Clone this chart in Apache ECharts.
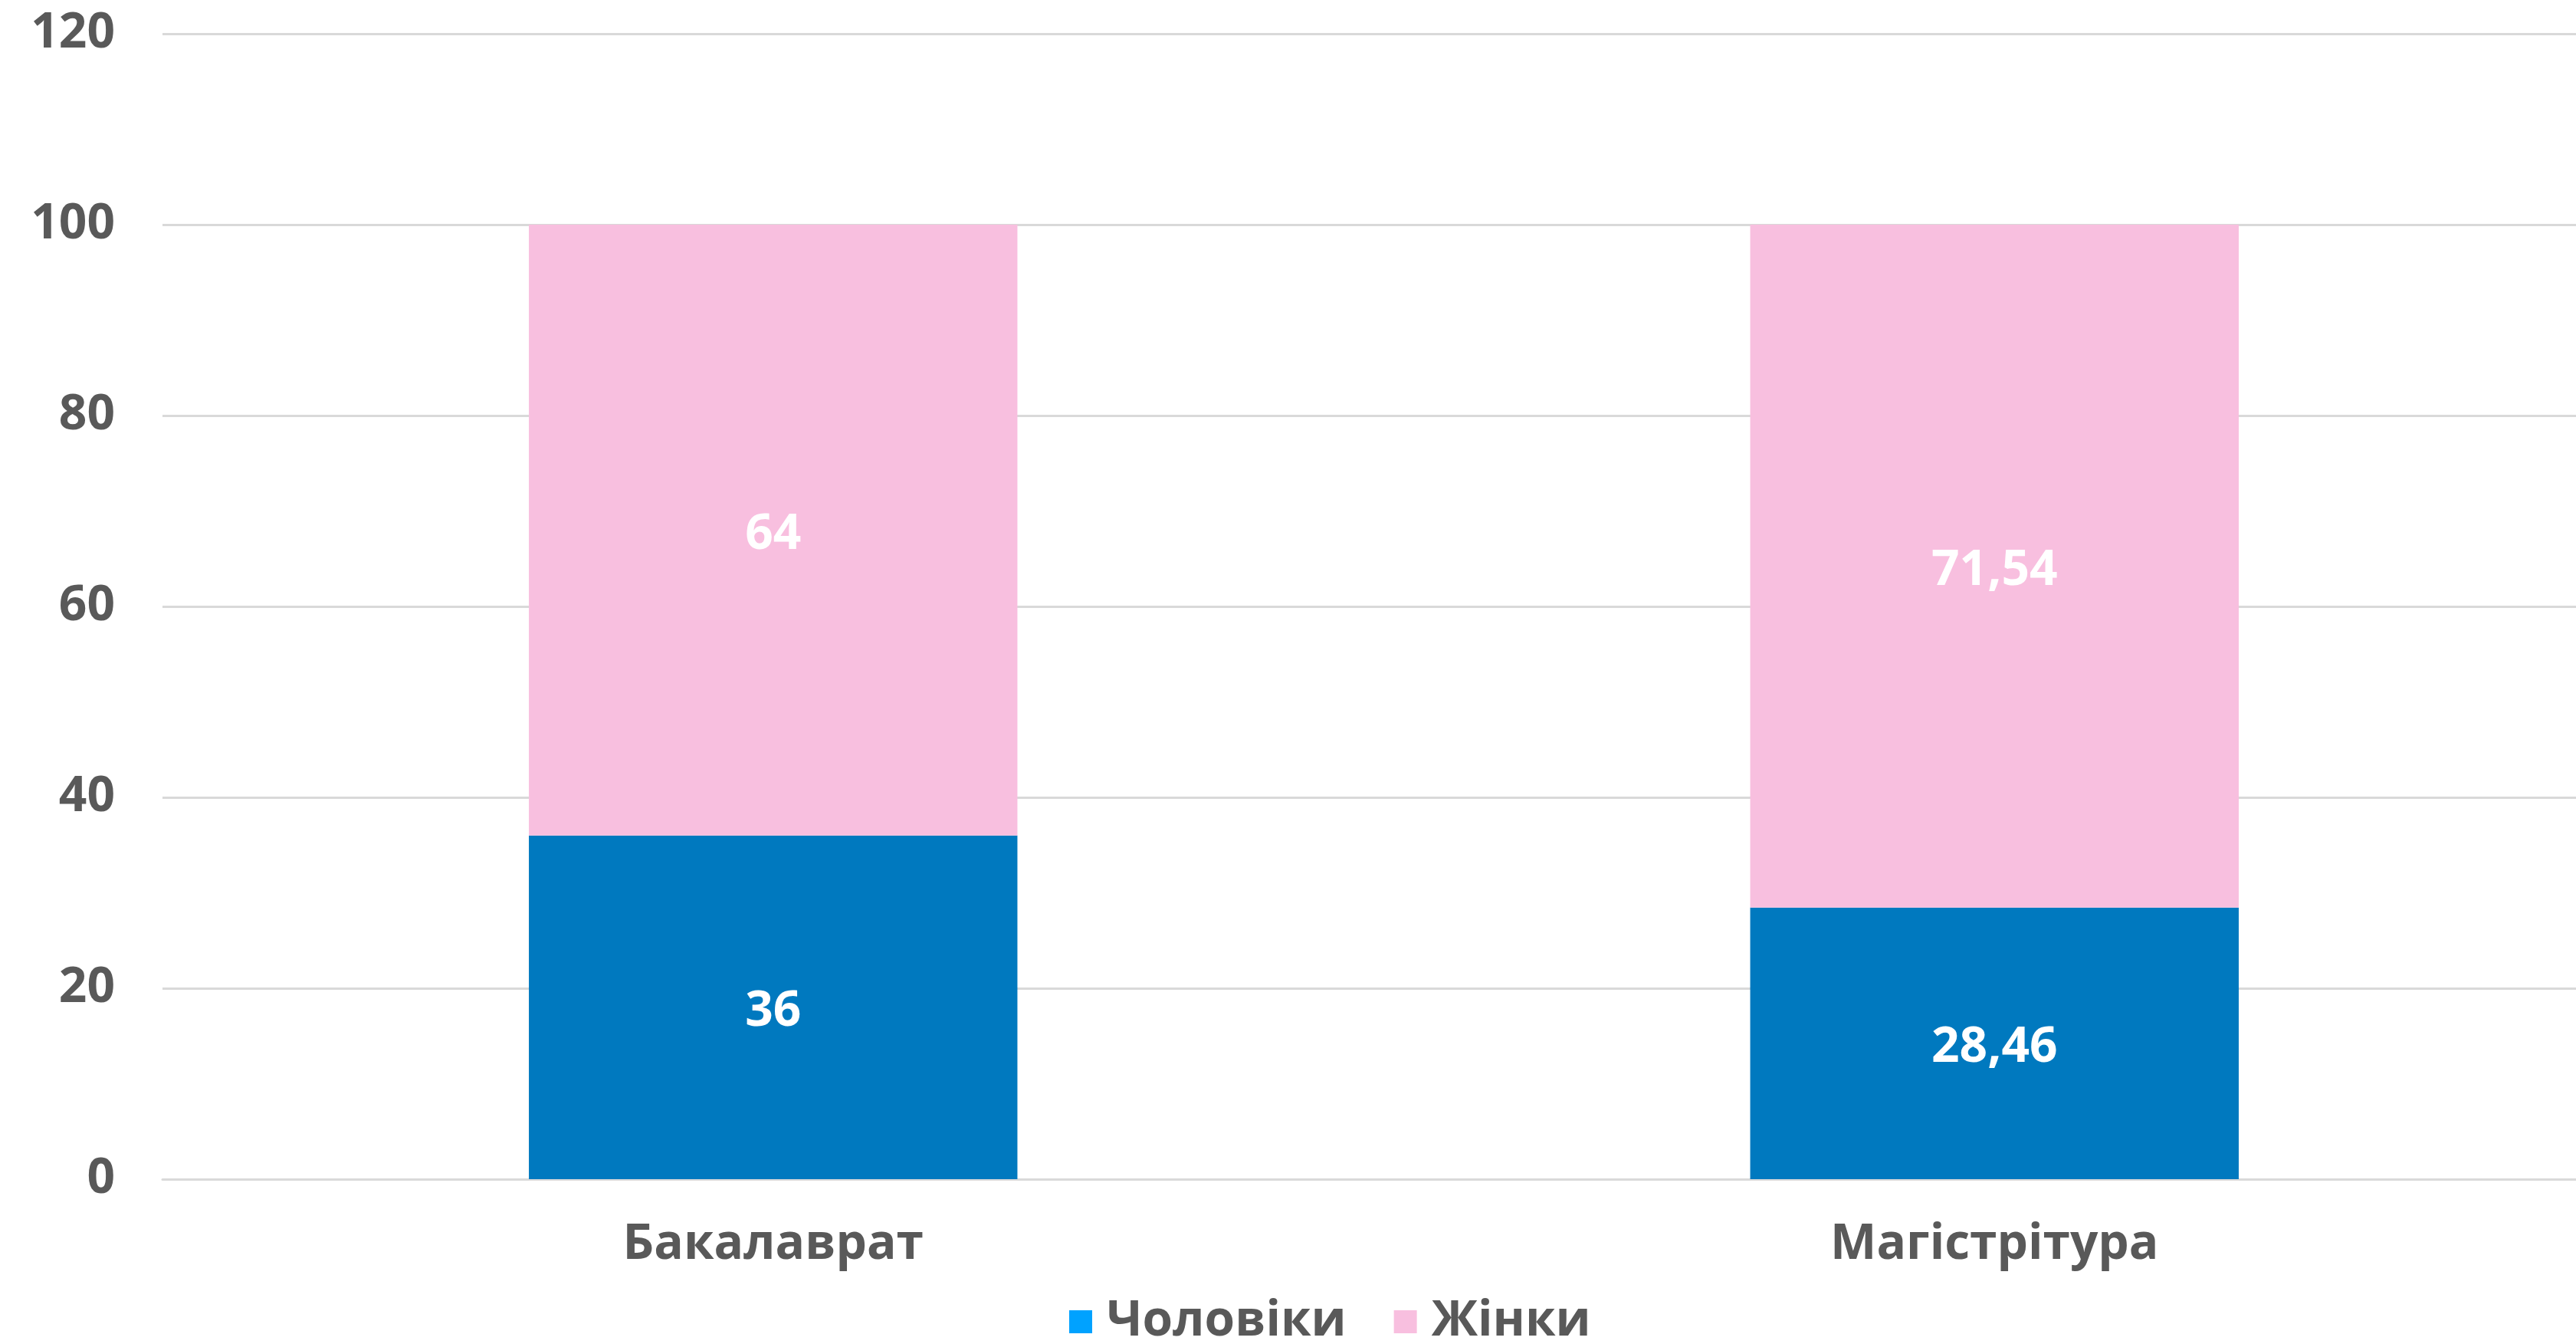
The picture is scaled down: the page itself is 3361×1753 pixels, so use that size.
<!DOCTYPE html>
<html>
<head>
<meta charset="utf-8">
<script src="https://cdn.jsdelivr.net/npm/echarts@6/dist/echarts.min.js"></script>
<style>
  html, body { margin: 0; padding: 0; background: #fff; }
  #main { width: 3361px; height: 1753px; }
</style>
</head>
<body>
<div id="main"></div>
<script>
var categories = ['Бакалаврат', 'Магістрітура'];
var men = [36, 28.46];
var women = [64, 71.54];
var seriesNames = ['Чоловіки', 'Жінки'];

var font = 'Open Sans';
var grey = '#595959';

function fmt(p) {
  return String(p.value).replace('.', ',');
}

var chartDom = document.getElementById('main');
var myChart = echarts.init(chartDom);
var option;

option = {
  animation: false,
  backgroundColor: '#fff',
  // the plot runs a bit past the right edge, as in the original
  grid: { left: 212, width: 3187, top: 44, bottom: 215, outerBoundsMode: 'none', containLabel: false },
  legend: {
    top: 1687,
    left: 1390,
    itemWidth: 30,
    itemHeight: 30,
    itemGap: 62,
    icon: 'rect',
    textStyle: { fontFamily: font, fontWeight: 'bold', fontSize: 64, lineHeight: 64, color: grey, padding: [0, 0, 0, 14] },
    data: [
      { name: seriesNames[0], itemStyle: { color: '#00A2FF' } },
      { name: seriesNames[1], itemStyle: { color: '#F8BFDF' } }
    ]
  },
  xAxis: {
    type: 'category',
    data: categories,
    axisLine: { lineStyle: { color: '#d9d9d9', width: 3 } },
    axisTick: { show: false },
    axisLabel: { fontFamily: font, fontWeight: 'bold', fontSize: 64, lineHeight: 64, color: grey, margin: 54 }
  },
  yAxis: {
    type: 'value',
    min: 0,
    max: 120,
    interval: 20,
    axisLine: { show: false },
    axisTick: { show: false },
    splitLine: { lineStyle: { color: '#d9d9d9', width: 3 } },
    axisLabel: { fontFamily: font, fontWeight: 'bold', fontSize: 64, color: grey, margin: 62, padding: [10, 0, 0, 0] }
  },
  series: [
    {
      name: seriesNames[0],
      type: 'bar',
      stack: 'total',
      barWidth: '40%',
      data: men,
      itemStyle: { color: '#0079BF' },
      label: { show: true, position: 'inside', offset: [0, 6], formatter: fmt, color: '#fff', fontFamily: font, fontWeight: 'bold', fontSize: 64 }
    },
    {
      name: seriesNames[1],
      type: 'bar',
      stack: 'total',
      data: women,
      itemStyle: { color: '#F8BFDF' },
      label: { show: true, position: 'inside', offset: [0, 6], formatter: fmt, color: '#fff', fontFamily: font, fontWeight: 'bold', fontSize: 64 }
    }
  ]
};

option && myChart.setOption(option);
</script>
</body>
</html>
